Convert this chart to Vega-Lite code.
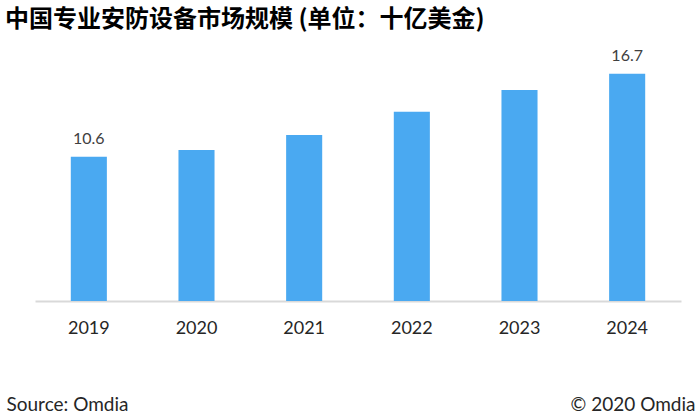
{
  "$schema": "https://vega.github.io/schema/vega-lite/v6.json",
  "autosize": {"type": "none"},
  "width": 646,
  "height": 245,
  "padding": {"left": 35, "top": 56, "right": 19, "bottom": 117},
  "background": "white",
  "config": {"view": {"stroke": null}},
  "title": {
    "text": "中国专业安防设备市场规模 (单位：十亿美金)",
    "anchor": "start",
    "frame": "group",
    "dx": -30,
    "offset": 16,
    "font": "Noto Sans CJK SC",
    "fontSize": 24,
    "fontWeight": "bold",
    "color": "#000000"
  },
  "data": {
    "values": [
      {"year": "2019", "value": 10.6},
      {"year": "2020", "value": 11.1},
      {"year": "2021", "value": 12.2},
      {"year": "2022", "value": 13.9},
      {"year": "2023", "value": 15.5},
      {"year": "2024", "value": 16.7}
    ]
  },
  "encoding": {
    "x": {
      "field": "year",
      "type": "ordinal",
      "scale": {"paddingInner": 0.665, "paddingOuter": 0.3325},
      "axis": {
        "title": "Source: Omdia",
        "titleFont": "Lato",
        "titleFontSize": 19,
        "titleFontWeight": "normal",
        "titleColor": "#262626",
        "titleAnchor": "start",
        "titleAlign": "left",
        "titleBaseline": "alphabetic",
        "titleX": -29,
        "titleY": 109,
        "labelFont": "Lato",
        "labelFontSize": 18,
        "labelColor": "#262626",
        "labelAngle": 0,
        "labelPadding": 18,
        "ticks": false,
        "domainColor": "#d9d9d9",
        "domainWidth": 2
      }
    },
    "y": {
      "field": "value",
      "type": "quantitative",
      "scale": {"domain": [0, 18]},
      "axis": {
        "orient": "right",
        "title": "© 2020 Omdia",
        "titleFont": "Lato",
        "titleFontSize": 19,
        "titleFontWeight": "normal",
        "titleColor": "#262626",
        "titleAngle": 0,
        "titleAlign": "right",
        "titleBaseline": "alphabetic",
        "titleX": 14,
        "titleY": 354,
        "labels": false,
        "ticks": false,
        "domain": false,
        "grid": false
      }
    }
  },
  "layer": [
    {"mark": {"type": "bar", "color": "#4aa9f1"}},
    {
      "transform": [{"filter": "datum.year == '2019' || datum.year == '2024'"}],
      "mark": {"type": "text", "baseline": "alphabetic", "dy": -13, "font": "Lato", "fontSize": 16, "color": "#404040"},
      "encoding": {"text": {"field": "value", "type": "quantitative", "format": ".1f"}}
    }
  ]
}
